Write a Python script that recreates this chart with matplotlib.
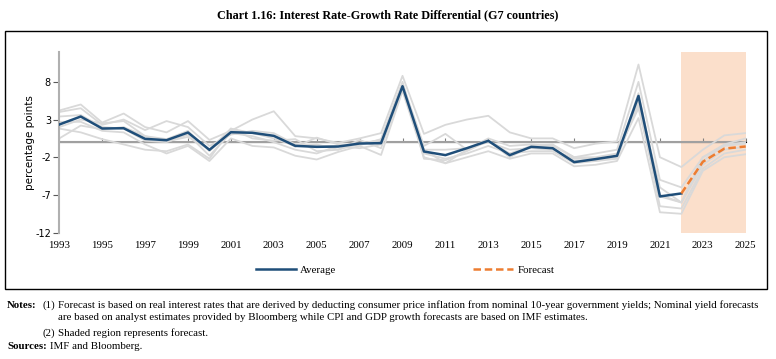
import matplotlib.pyplot as plt
from matplotlib.patches import Rectangle

plt.rcParams['font.family'] = ['Liberation Serif', 'DejaVu Serif']

years = list(range(1993, 2026))
hist_years = list(range(1993, 2023))
fc_years = [2022, 2023, 2024, 2025]

# G7 average (historical)
average = [2.34, 3.4, 1.81, 1.85, 0.44, 0.26, 1.28, -1.02, 1.32, 1.24,
           0.84, -0.49, -0.62, -0.58, -0.18, -0.13, 7.42, -1.24, -1.72, -0.8,
           0.18, -1.72, -0.62, -0.8, -2.65, -2.25, -1.81, 6.13, -7.2, -6.8]
# average forecast
forecast = [-6.8, -2.6, -0.86, -0.57]

# individual countries (grey lines)
c1 = [4.2, 5.0, 2.6, 3.8, 2.0, 1.3, 2.8, 0.3, 1.5, 3.0, 4.1, 0.8, 0.5, -0.1, 0.5, 1.2,
      8.8, 1.1, 2.3, 3.0, 3.5, 1.3, 0.5, 0.5, -0.8, -0.2, 0.1, 10.3, -2.0, -3.3, -1.0, 0.9, 1.2]
c2 = [4.0, 4.5, 2.3, 3.0, 1.6, 2.8, 2.0, -0.5, 1.0, 1.5, 1.2, -0.3, -0.5, -0.5, -0.2, 0.3,
      7.8, -0.5, 1.1, -1.0, 0.5, -0.5, -0.3, -0.5, -2.0, -1.5, -1.0, 8.0, -5.0, -6.0, -2.0, -0.3, 0.5]
c3 = [3.4, 3.6, 2.0, 1.8, 0.2, 0.0, 1.0, -1.8, 1.2, 0.8, 0.0, -1.0, -1.5, -0.5, -0.8, -0.3,
      7.0, -1.5, -2.2, -1.5, -0.5, -1.5, -1.2, -1.2, -2.8, -2.5, -2.0, 6.5, -7.0, -8.0, -3.0, -1.0, -0.6]
c4 = [2.7, 2.7, 1.5, 1.3, -0.3, -1.5, -0.5, -2.5, 0.5, -0.5, -0.7, -1.8, -2.3, -1.3, -0.5, -1.7,
      6.8, -2.0, -2.8, -2.0, -1.2, -2.2, -1.5, -1.5, -3.2, -3.0, -2.5, 3.2, -9.3, -9.5, -3.8, -2.0, -1.6]
c5 = [1.8, 1.3, 0.4, -0.3, -1.0, -1.2, -0.3, -2.2, 1.8, 1.2, 0.5, -0.5, -0.3, -1.0, 0.3, -0.8,
      7.2, -1.0, -1.0, -0.8, 0.0, -1.0, -0.8, -1.0, -2.2, -2.2, -1.8, 5.0, -8.5, -8.8, -3.5, -1.5, -1.0]
c6 = [0.5, 2.2, 1.7, 2.0, 0.8, 0.4, 1.5, -1.2, 1.5, 1.3, 0.8, -0.6, 0.6, -0.3, -0.4, 0.4,
      8.0, -2.2, -2.4, -1.2, 0.2, -2.0, -0.5, -0.8, -2.5, -2.5, -2.2, 5.5, -6.0, -8.0, -2.5, -0.4, 0.0]
c7 = [2.0, 3.0, 2.5, 2.8, 0.8, 0.1, 0.7, -1.0, 1.8, 0.5, 0.2, 0.4, -1.2, -1.0, -0.2, 0.2,
      7.2, -1.0, -2.8, -1.0, 0.2, -1.5, -0.5, -0.3, -2.0, -2.0, -1.5, 4.5, -7.2, -8.0, -2.0, -0.5, -0.2]
countries = [c1, c2, c3, c4, c5, c6, c7]

yticks = [-12, -7, -2, 3, 8]
xticks = list(range(1993, 2026, 2))

fig = plt.figure(figsize=(7.76, 3.59), dpi=100)
ax = fig.add_axes([0.0764, 0.352, 0.8846, 0.504])

ax.axvspan(2022, 2025, color='#FBDFCB', lw=0, zorder=0)
ax.axhline(0, color='#A0A0A0', lw=1.5, zorder=1)
for c in countries:
    ax.plot(years, c, color='#D9D9D9', lw=1.3, zorder=2)
ax.plot(hist_years, average, color='#1F4E79', lw=1.8, zorder=4, label='Average')
ax.plot(fc_years, forecast, color='#ED7D31', lw=1.8, ls=(0, (3, 1.5)), zorder=4,
        label='Forecast')

ax.set_xlim(1993, 2025)
ax.set_ylim(-12, 12)
ax.set_yticks(yticks)
ax.set_yticklabels([str(v) for v in yticks], family='DejaVu Sans', fontsize=7)
ax.set_xticks(xticks)
ax.set_xticklabels([str(v) for v in xticks], fontsize=7.8)
ax.tick_params(axis='x', length=0, pad=6)
ax.tick_params(axis='y', length=4, color='#595959', pad=2)
for s in ['top', 'right', 'bottom']:
    ax.spines[s].set_visible(False)
ax.spines['left'].set_color('#B0B0B0')
ax.spines['left'].set_linewidth(1.5)
ax.set_ylabel('percentage points', family='DejaVu Sans', fontsize=7.5, labelpad=0)

# ticks on the zero line
zero_ax = ax.secondary_xaxis(0.5)
zero_ax.set_xticks(xticks)
zero_ax.set_xticklabels([])
zero_ax.spines['bottom'].set_visible(False)
zero_ax.tick_params(length=3, color='#808080', width=0.8)

fig.legend(loc='center', bbox_to_anchor=(0.522, 0.247), ncol=2, frameon=False,
           fontsize=7.8, handlelength=3.7, handletextpad=0.4, columnspacing=12.6)

fig.add_artist(Rectangle((0.006, 0.195), 0.983, 0.72, transform=fig.transFigure,
                         fill=False, ec='black', lw=1))

fig.text(0.5, 0.958, 'Chart 1.16: Interest Rate-Growth Rate Differential (G7 countries)',
         ha='center', va='center', fontsize=8.7, fontweight='bold')

fs = 7.8
fig.text(0.009, 0.150, 'Notes:', fontsize=fs, fontweight='bold', va='center')
fig.text(0.055, 0.150, '(1)', fontsize=fs, va='center')
fig.text(0.075, 0.150, 'Forecast is based on real interest rates that are derived by deducting '
         'consumer price inflation from nominal 10-year government yields; Nominal yield forecasts',
         fontsize=fs, va='center')
fig.text(0.075, 0.117, 'are based on analyst estimates provided by Bloomberg while CPI and '
         'GDP growth forecasts are based on IMF estimates.', fontsize=fs, va='center')
fig.text(0.055, 0.073, '(2)', fontsize=fs, va='center')
fig.text(0.075, 0.073, 'Shaded region represents forecast.', fontsize=fs, va='center')
fig.text(0.009, 0.034, 'Sources:', fontsize=fs, fontweight='bold', va='center')
fig.text(0.065, 0.034, 'IMF and Bloomberg.', fontsize=fs, va='center')

plt.savefig('out.png', dpi=100)
